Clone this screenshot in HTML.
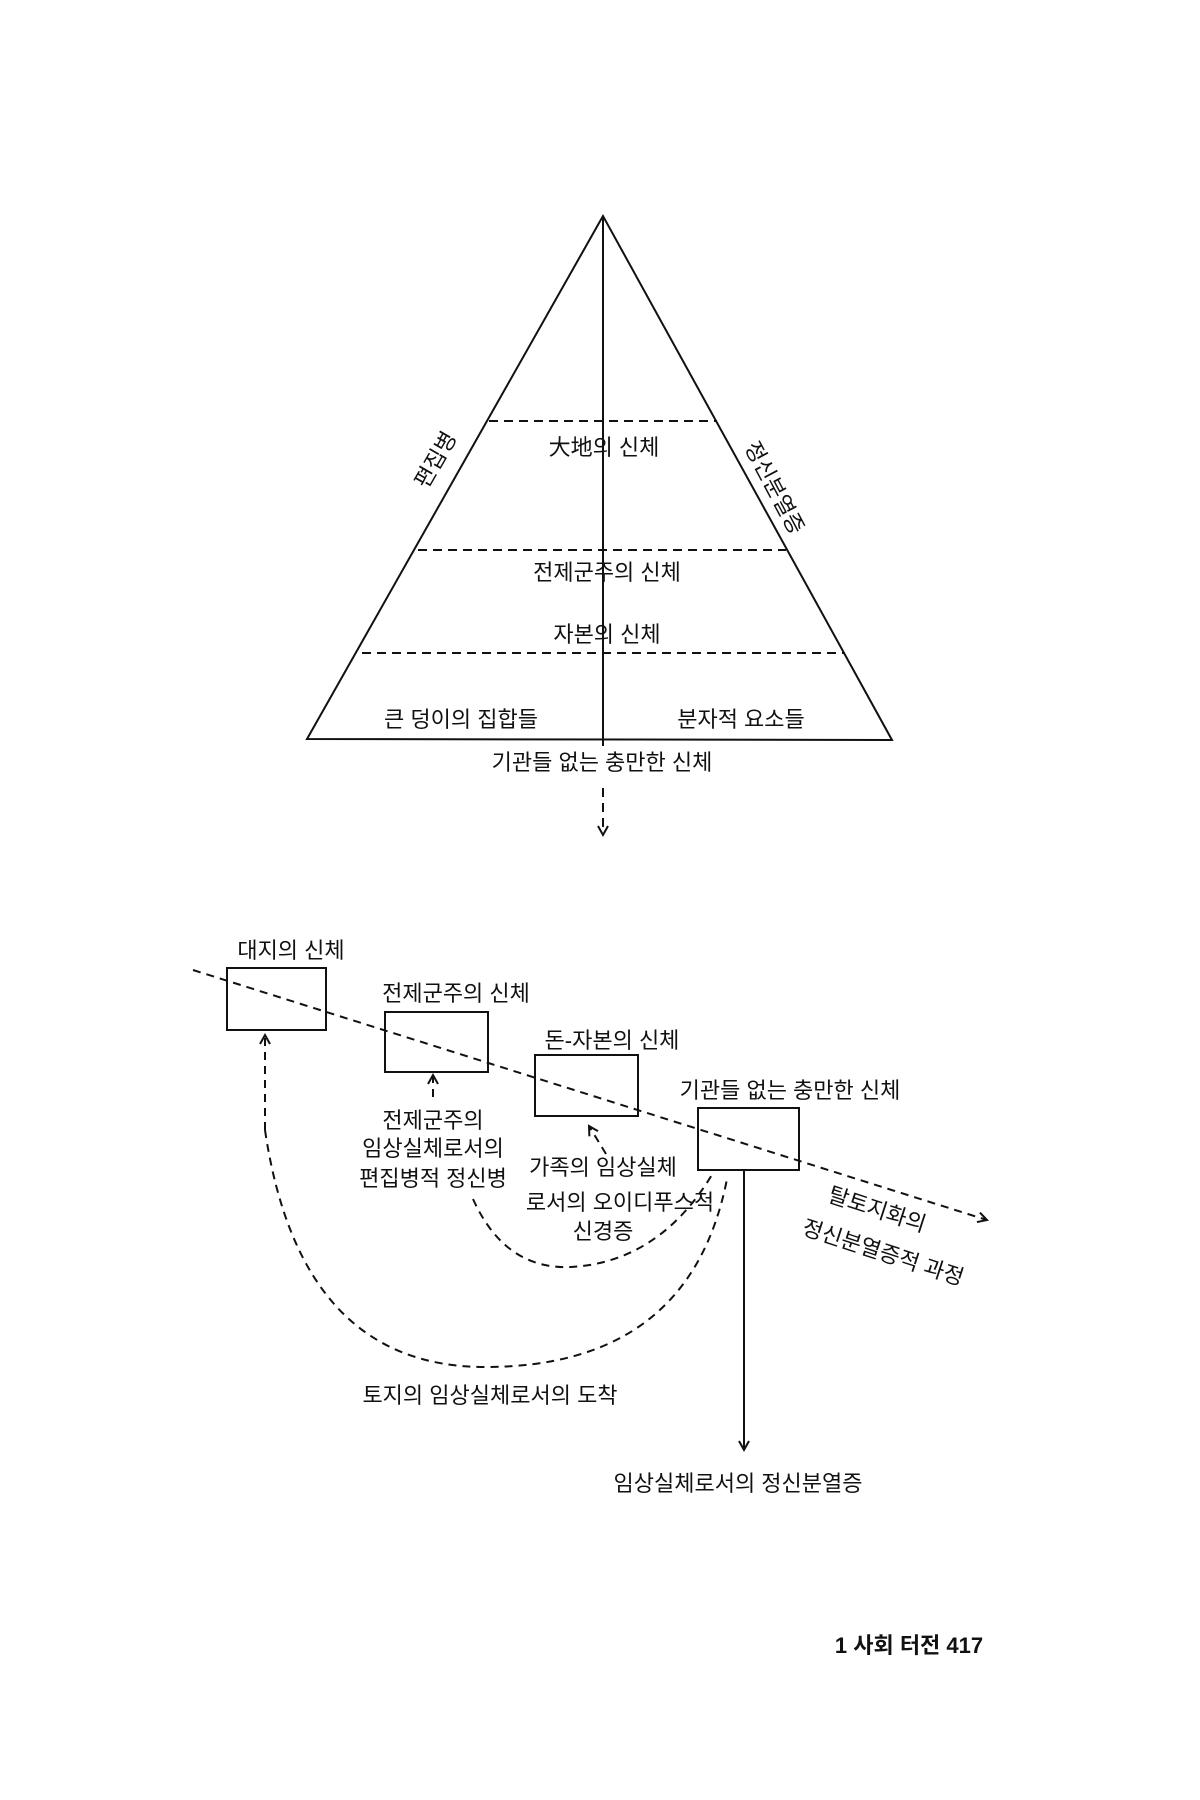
<!DOCTYPE html>
<html><head><meta charset="utf-8"><style>
body{margin:0;background:#fff}
svg{display:block}
text{font-family:"Liberation Sans","Noto Sans CJK KR",sans-serif;font-size:22px;fill:#111}
</style></head><body>
<svg width="1200" height="1800" viewBox="0 0 1200 1800" xmlns="http://www.w3.org/2000/svg">
<defs>
<marker id="ah" markerWidth="14" markerHeight="14" refX="10" refY="6" orient="auto" markerUnits="userSpaceOnUse">
<path d="M1,1 L10,6 L1,11" fill="none" stroke="#111" stroke-width="2"/>
</marker>
</defs>
<g stroke="#111" stroke-width="2" fill="none">
<polygon points="603,216 307,739 892,740"/>
<line x1="603" y1="216" x2="603" y2="746"/>
<g stroke-dasharray="9,6">
<line x1="489" y1="421" x2="717" y2="421"/>
<line x1="418" y1="550" x2="786" y2="550"/>
<line x1="362" y1="653" x2="844" y2="653"/>
<line x1="603" y1="788" x2="603" y2="835" marker-end="url(#ah)"/>
</g>
<rect x="227" y="968" width="99" height="62"/>
<rect x="385" y="1012" width="103" height="60"/>
<rect x="535" y="1055" width="103" height="61"/>
<rect x="698" y="1108" width="101" height="62"/>
<g stroke-dasharray="8,6">
<line x1="193" y1="970" x2="987" y2="1220" marker-end="url(#ah)"/>
<line x1="433" y1="1097" x2="433" y2="1075" marker-end="url(#ah)"/>
<line x1="606" y1="1154" x2="589" y2="1126" marker-end="url(#ah)"/>
<path d="M473,1199 Q505,1270 571,1267 Q660,1262 713,1173"/>
<path d="M265,1130 L265,1035" marker-end="url(#ah)"/>
<path d="M265,1130 Q300,1367 485,1367 Q690,1367 727,1179"/>
</g>
<line x1="744" y1="1170" x2="744" y2="1450" marker-end="url(#ah)"/>
</g>
<g text-anchor="middle">
<text x="604" y="455">大地의 신체</text>
<text x="607" y="580">전제군주의  신체</text>
<text x="607" y="642">자본의  신체</text>
<text x="461" y="727">큰 덩이의 집합들</text>
<text x="741" y="727">분자적 요소들</text>
<text x="602" y="770">기관들 없는  충만한 신체</text>
<text transform="translate(436,460) rotate(-60)" y="7">편집병</text>
<text transform="translate(774,488) rotate(62)" y="7">정신분열증</text>
<text x="291" y="958">대지의 신체</text>
<text x="456" y="1001">전제군주의 신체</text>
<text x="612" y="1048">돈-자본의 신체</text>
<text x="790" y="1098">기관들 없는 충만한 신체</text>
<text x="433" y="1128">전제군주의</text>
<text x="433" y="1156">임상실체로서의</text>
<text x="433" y="1186">편집병적 정신병</text>
<text x="603" y="1175">가족의 임상실체</text>
<text x="620" y="1210">로서의 오이디푸스적</text>
<text x="603" y="1239">신경증</text>
<text x="490" y="1403">토지의 임상실체로서의 도착</text>
<text x="738" y="1491">임상실체로서의 정신분열증</text>
<text transform="translate(877,1210) rotate(18)" y="7">탈토지화의</text>
<text transform="translate(883,1253) rotate(18)" y="7">정신분열증적 과정</text>
<text x="909" y="1653" style="font-weight:bold">1 사회 터전  417</text>
</g>
</svg>
</body></html>
